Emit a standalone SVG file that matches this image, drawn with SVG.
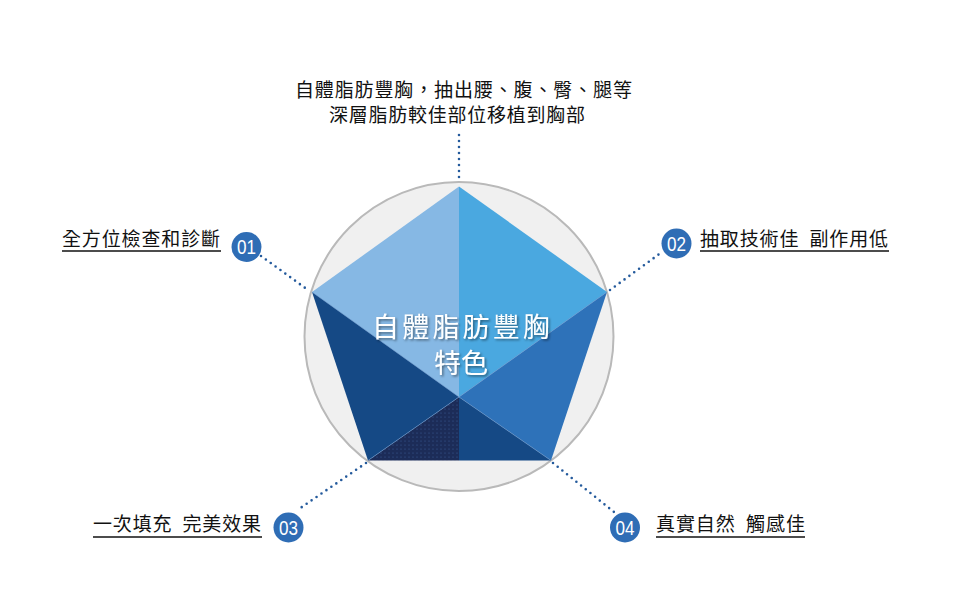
<svg xmlns="http://www.w3.org/2000/svg" width="959" height="591" viewBox="0 0 959 591">
<defs>
<style>
.lbl{font-family:"Noto Sans CJK TC","Noto Sans CJK SC",sans-serif;font-size:19px;fill:#111;white-space:pre;}
.num{font-family:"Liberation Sans",Arial,sans-serif;font-size:20px;fill:#fff;text-anchor:middle;}
.badge{fill:#2f6db5;}
.ul{stroke:#111;stroke-width:1.5;}
.dot{fill:none;stroke:#245a9c;stroke-width:2.6;stroke-linecap:round;stroke-dasharray:0 6;}
.seg{stroke:#6a9ad2;stroke-width:0.8;stroke-opacity:0.7;}
.ctr{font-family:"Noto Sans CJK TC","Noto Sans CJK SC",sans-serif;font-size:27px;fill:#fff;text-anchor:middle;filter:url(#sh);}
</style>
<filter id="sh" x="-20%" y="-40%" width="140%" height="180%">
<feDropShadow dx="1.5" dy="1.5" stdDeviation="1.2" flood-color="#000" flood-opacity="0.45"/>
</filter>
<pattern id="dots" width="4" height="4" patternUnits="userSpaceOnUse">
<rect width="4" height="4" fill="#1c2c58"/>
<circle cx="1" cy="1" r="0.6" fill="#3a5a96"/>
</pattern>
</defs>
<rect width="959" height="591" fill="#fff"/>

<g id="connectors">
<line class="dot" x1="459" y1="135" x2="459" y2="181"/>
<line class="dot" x1="261" y1="256" x2="308" y2="290"/>
<line class="dot" x1="610" y1="290" x2="662" y2="252"/>
<line class="dot" x1="366" y1="463" x2="299" y2="509"/>
<line class="dot" x1="553" y1="463" x2="614" y2="512"/>
</g>

<g id="center">
<circle cx="459" cy="336.5" r="154.5" fill="#f0f0f0" stroke="#b9b9b9" stroke-width="2"/>
<polygon points="459,186.5 312,292 459,397" fill="#86b8e4"/>
<polygon points="459,186.5 607,292 459,397" fill="#4aa8e0"/>
<polygon points="607,292 551,460.5 459,397" fill="#2e72b9"/>
<polygon points="551,460.5 459,460.5 459,397" fill="#154985"/>
<polygon points="459,460.5 368,460.5 459,397" fill="url(#dots)"/>
<polygon points="368,460.5 312,292 459,397" fill="#154985"/>
<line class="seg" x1="459" y1="397" x2="312" y2="292"/>
<line class="seg" x1="459" y1="397" x2="607" y2="292"/>
<line class="seg" x1="459" y1="397" x2="551" y2="460.5"/>
<line class="seg" x1="459" y1="397" x2="368" y2="460.5"/>
<text class="ctr" x="461" y="337" textLength="178" lengthAdjust="spacing">自體脂肪豐胸</text>
<text class="ctr" x="461" y="373">特色</text>
</g>

<g id="top-label">
<text class="lbl" x="295" y="97" textLength="337" lengthAdjust="spacing">自體脂肪豐胸，抽出腰、腹、臀、腿等</text>
<text class="lbl" x="329" y="122" textLength="256" lengthAdjust="spacing">深層脂肪較佳部位移植到胸部</text>
</g>

<g id="item-01">
<text class="lbl" x="62" y="246" textLength="158" lengthAdjust="spacing">全方位檢查和診斷</text>
<line class="ul" x1="62" y1="251" x2="221" y2="251"/>
<circle class="badge" cx="246.5" cy="247" r="15"/>
<text class="num" x="246.5" y="254" textLength="19" lengthAdjust="spacingAndGlyphs">01</text>
</g>

<g id="item-02">
<circle class="badge" cx="676.5" cy="243.5" r="15"/>
<text class="num" x="676.5" y="250.5" textLength="19" lengthAdjust="spacingAndGlyphs">02</text>
<text class="lbl" x="700" y="246" textLength="188" lengthAdjust="spacing">抽取技術佳  副作用低</text>
<line class="ul" x1="700" y1="251" x2="889" y2="251"/>
</g>

<g id="item-03">
<text class="lbl" x="93" y="531" textLength="168" lengthAdjust="spacing">一次填充  完美效果</text>
<line class="ul" x1="93" y1="537" x2="262" y2="537"/>
<circle class="badge" cx="288.5" cy="527.5" r="15"/>
<text class="num" x="288.5" y="534.5" textLength="19" lengthAdjust="spacingAndGlyphs">03</text>
</g>

<g id="item-04">
<circle class="badge" cx="625" cy="527.5" r="15"/>
<text class="num" x="625" y="534.5" textLength="19" lengthAdjust="spacingAndGlyphs">04</text>
<text class="lbl" x="656" y="531" textLength="149" lengthAdjust="spacing">真實自然  觸感佳</text>
<line class="ul" x1="656" y1="537" x2="805" y2="537"/>
</g>
</svg>
